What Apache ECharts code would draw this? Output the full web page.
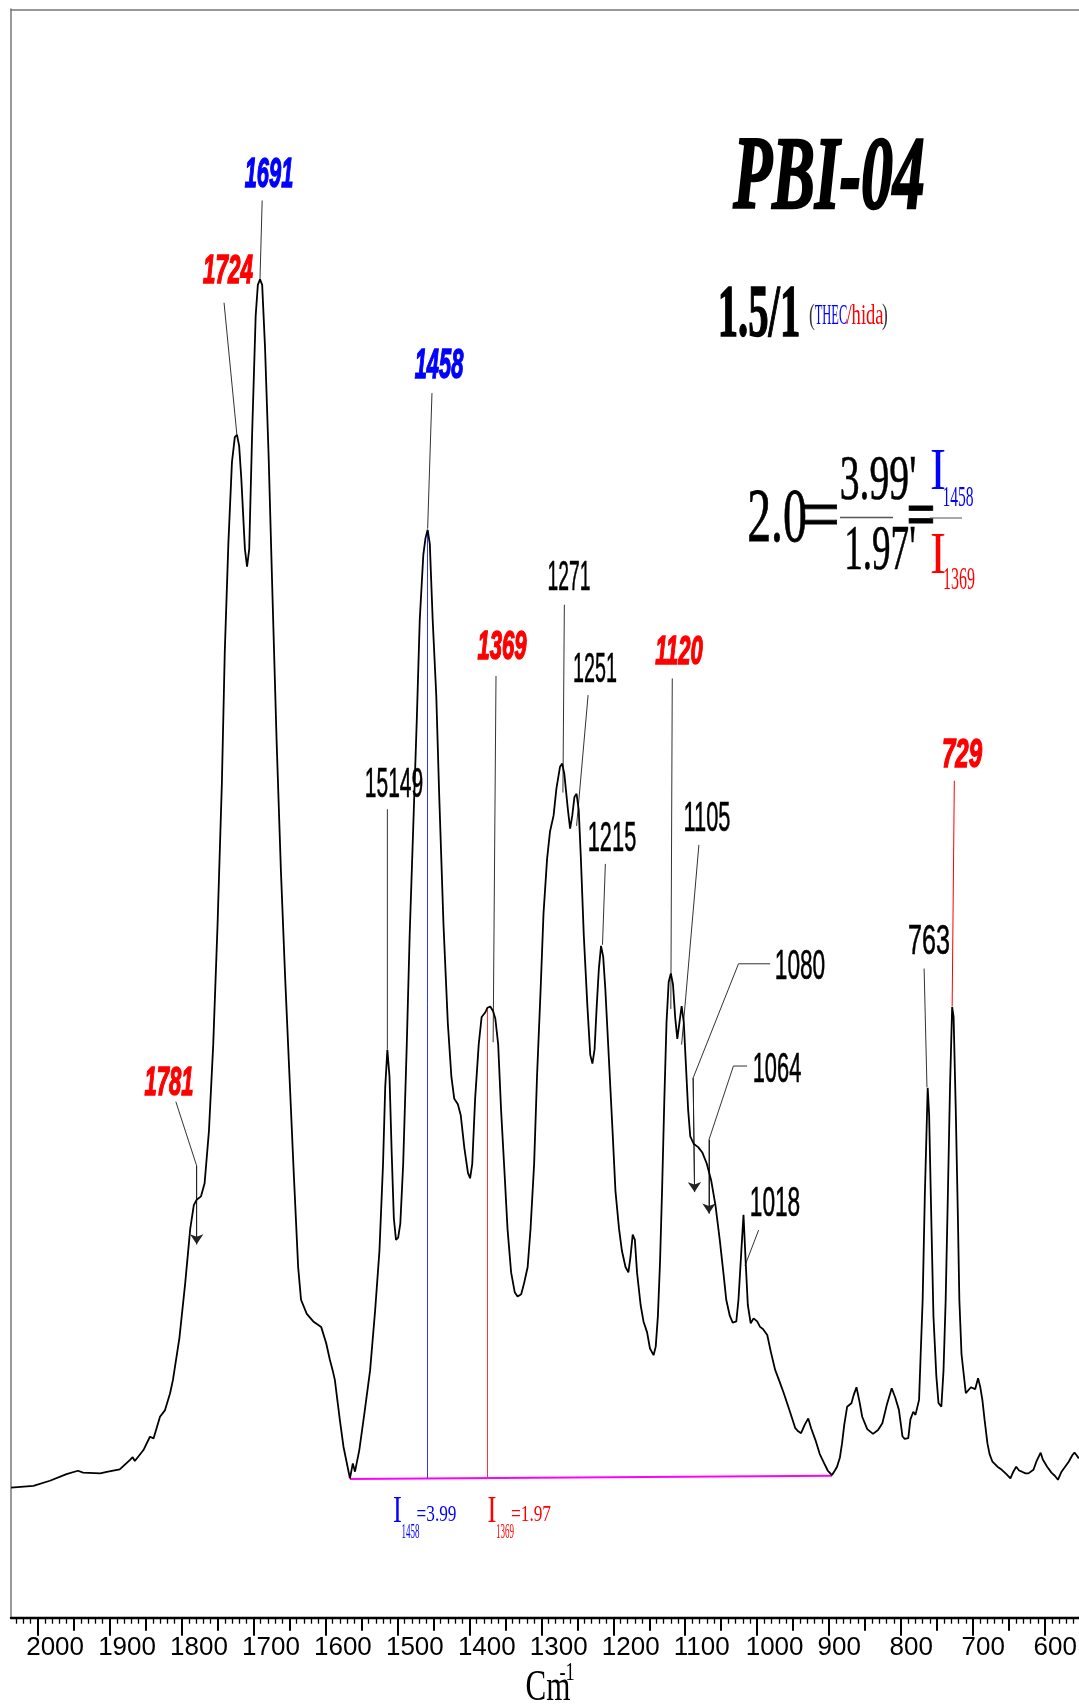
<!DOCTYPE html>
<html>
<head>
<meta charset="utf-8">
<script src="https://cdn.jsdelivr.net/npm/echarts@6/dist/echarts.min.js"></script>
<style>
  html, body { margin: 0; padding: 0; background: #fff; }
  #chart { width: 1079px; height: 1705px; }
</style>
</head>
<body>
<div id="chart"></div>
<script>
// FTIR spectrum of PBI-04, wavenumber (cm-1) vs. absorbance (a.u.)
const wavenumbers = [
  2037, 2006, 1983, 1960, 1944, 1937, 1913, 1904, 1886, 1872, 1868, 1865, 1853, 1844, 1839, 1830, 1823, 1816, 1812,
  1803, 1795, 1788, 1783, 1779, 1773, 1768, 1762, 1756, 1750, 1744, 1740, 1735, 1730, 1726, 1723, 1720, 1717, 1712,
  1709, 1706, 1702, 1697, 1694, 1691, 1688, 1684, 1679, 1674, 1668, 1662, 1656, 1650, 1644, 1638, 1634, 1626, 1617,
  1606, 1599, 1594, 1590, 1587, 1580, 1575, 1566, 1562, 1559, 1553, 1546, 1538, 1531, 1525, 1520, 1517, 1514, 1511,
  1508, 1505, 1502, 1499, 1496, 1492, 1487, 1483, 1478, 1473, 1469, 1464, 1461, 1458, 1455, 1451, 1446, 1442, 1436,
  1430, 1425, 1421, 1416, 1412, 1407, 1402, 1399, 1396, 1392, 1387, 1383, 1378, 1375, 1371, 1367, 1364, 1360, 1356,
  1351, 1347, 1342, 1337, 1333, 1328, 1324, 1319, 1315, 1310, 1306, 1301, 1297, 1292, 1288, 1283, 1279, 1274, 1271,
  1268, 1263, 1260, 1257, 1254, 1251, 1248, 1245, 1241, 1236, 1232, 1229, 1226, 1223, 1220, 1217, 1214, 1211, 1206,
  1201, 1197, 1192, 1188, 1183, 1179, 1176, 1173, 1170, 1167, 1162, 1158, 1153, 1149, 1144, 1141, 1138, 1135, 1132,
  1129, 1126, 1123, 1120, 1117, 1114, 1111, 1108, 1105, 1102, 1099, 1096, 1093, 1088, 1082, 1076, 1070, 1064, 1058,
  1052, 1047, 1043, 1038, 1034, 1029, 1026, 1022, 1019, 1016, 1013, 1009, 1005, 1000, 996, 992, 986, 981, 975, 969,
  963, 955, 947, 943, 939, 934, 929, 925, 919, 913, 907, 902, 896, 892, 889, 885, 882, 879, 875, 869, 866, 862, 858,
  854, 847, 839, 832, 826, 820, 813, 808, 803, 798, 795, 790, 787, 783, 780, 775, 773, 770, 767, 763, 761, 758, 755,
  751, 748, 744, 741, 738, 735, 732, 729, 727, 724, 721, 719, 716, 710, 703, 697, 693, 690, 687, 684, 680, 677, 673,
  666, 660, 654, 648, 644, 640, 636, 632, 627, 623, 616, 612, 606, 603, 597, 591, 586, 582, 577, 572, 567, 562, 559,
  556, 553
];
const absorbance = [
  0.547, 0.554, 0.576, 0.604, 0.618, 0.610, 0.607, 0.613, 0.624, 0.663, 0.675, 0.659, 0.705, 0.761, 0.754, 0.845, 0.873, 0.944, 1.000,
  1.177, 1.406, 1.635, 1.735, 1.758, 1.772, 1.827, 2.046, 2.412, 2.915, 3.510, 4.059, 4.516, 4.860, 4.965, 4.974, 4.928, 4.791, 4.494,
  4.420, 4.494, 4.974, 5.477, 5.605, 5.628, 5.605, 5.340, 4.882, 4.333, 3.693, 3.145, 2.687, 2.275, 1.863, 1.475, 1.337, 1.278, 1.246,
  1.223, 1.154, 1.086, 1.040, 1.000, 0.831, 0.719, 0.586, 0.649, 0.614, 0.705, 0.857, 1.040, 1.292, 1.543, 1.909, 2.229, 2.388, 2.274,
  1.955, 1.680, 1.589, 1.598, 1.657, 1.909, 2.412, 2.870, 3.327, 3.785, 4.196, 4.471, 4.540, 4.575, 4.516, 4.196, 3.876, 3.464, 2.915,
  2.502, 2.274, 2.182, 2.159, 2.113, 1.976, 1.871, 1.848, 1.909, 2.183, 2.412, 2.526, 2.545, 2.565, 2.570, 2.550, 2.520, 2.412, 2.138,
  1.863, 1.635, 1.452, 1.369, 1.351, 1.360, 1.406, 1.475, 1.635, 1.909, 2.275, 2.641, 2.960, 3.191, 3.305, 3.373, 3.488, 3.579, 3.592,
  3.547, 3.396, 3.318, 3.373, 3.451, 3.465, 3.396, 3.191, 2.870, 2.573, 2.367, 2.330, 2.390, 2.573, 2.731, 2.825, 2.779, 2.641, 2.344,
  2.046, 1.795, 1.635, 1.543, 1.475, 1.452, 1.520, 1.611, 1.589, 1.452, 1.315, 1.246, 1.200, 1.132, 1.104, 1.140, 1.268, 1.497, 1.818,
  2.184, 2.504, 2.673, 2.709, 2.663, 2.526, 2.434, 2.504, 2.572, 2.504, 2.321, 2.138, 2.024, 1.992, 1.979, 1.955, 1.909, 1.840, 1.735,
  1.589, 1.452, 1.337, 1.269, 1.241, 1.246, 1.337, 1.543, 1.694, 1.497, 1.315, 1.238, 1.259, 1.246, 1.223, 1.214, 1.189, 1.118, 1.042, 0.994,
  0.944, 0.871, 0.797, 0.784, 0.776, 0.811, 0.838, 0.797, 0.747, 0.688, 0.650, 0.619, 0.600, 0.619, 0.635, 0.674, 0.734, 0.811, 0.887, 0.902, 0.935, 0.969, 0.912,
  0.845, 0.793, 0.773, 0.789, 0.818, 0.893, 0.965, 0.925, 0.874, 0.762, 0.752, 0.755, 0.834, 0.866, 0.853, 0.916, 1.086, 1.337, 1.772, 2.228, 2.115, 1.680, 1.268,
  1.017, 0.903, 0.887, 1.040, 1.337, 1.772, 2.229, 2.568, 2.527, 2.138, 1.680, 1.337, 1.108, 0.944, 0.969, 0.961, 1.007, 0.971, 0.916, 0.834, 0.734, 0.688, 0.656,
  0.635, 0.622, 0.605, 0.586, 0.614, 0.635, 0.619, 0.614, 0.607, 0.607, 0.622, 0.656, 0.694, 0.665, 0.635, 0.610, 0.596, 0.580, 0.614, 0.635, 0.656, 0.683, 0.694,
  0.683, 0.670
];

// Tick labels of the wavenumber axis
const tickLabels = [2000, 1900, 1800, 1700, 1600, 1500, 1400, 1300, 1200, 1100, 1000, 900, 800, 700, 600];

// Baseline drawn between the two valleys, and the band intensities measured from it
const baselineStart = [1566, 0.583];
const baselineEnd = [896, 0.597];
const bandPositions = [1458, 1375];
const bandLabels = ['1458', '1369'];
const bandIntensities = [3.99, 1.97];

// Peak annotations: label, leader polyline in data coordinates, arrow flag
const peakLabels = ['1691', '1724', '1458', '1369', '1271', '1251', '15149', '1215', '1120', '1105', '1080', '1064', '1018', '763', '729', '1781'];
const peakLeaders = [
  [[1688, 5.96], [1691, 5.63]],
  [[1741, 5.53], [1723, 4.97]],
  [[1452, 5.15], [1458, 4.58]],
  [[1363, 3.96], [1367, 2.42]],
  [[1268, 4.26], [1270, 3.47]],
  [[1235, 3.88], [1251, 3.33]],
  [[1514, 3.40], [1514, 2.39]],
  [[1211, 3.17], [1215, 2.83]],
  [[1118, 3.95], [1120, 2.56]],
  [[1081, 3.25], [1105, 2.41]],
  [[982, 2.75], [1026, 2.75], [1089, 2.27], [1087, 1.79]],
  [[1014, 2.32], [1033, 2.32], [1067, 2.01], [1067, 1.70]],
  [[998, 1.63], [1017, 1.48]],
  [[768, 2.73], [764, 2.23]],
  [[726, 3.52], [729, 2.57]],
  [[1808, 2.17], [1779, 1.90], [1779, 1.57]]
];
const peakArrow = [false, false, false, false, false, false, false, false, false, false, true, true, false, false, false, true];
const peakColor = ['#0000ff', '#ff0000', '#0000ff', '#ff0000', '#000', '#000', '#000', '#000', '#ff0000', '#000', '#000', '#000', '#000', '#000', '#ff0000', '#ff0000'];

const chart = echarts.init(document.getElementById('chart'), null, { renderer: 'canvas' });

const spectrum = wavenumbers.map((w, i) => [w, absorbance[i]]);

// tick position lists for three tick lengths
const majorTicks = tickLabels.slice();
const midTicks = [];
const minorTicks = [];
for (let w = 560; w <= 2030; w += 10) {
  if (w % 100 === 0) continue;
  if (w % 50 === 0) midTicks.push(w); else minorTicks.push(w);
}

const X_MIN = 552.7, X_MAX = 2037.1;
function baselineAt(w) {
  const t = (baselineStart[0] - w) / (baselineStart[0] - baselineEnd[0]);
  return baselineStart[1] + t * (baselineEnd[1] - baselineStart[1]);
}

function bottomAxis(ticks, len, width, withLine) {
  return {
    type: 'value', position: 'bottom', min: X_MIN, max: X_MAX, inverse: true,
    axisLine: { show: withLine, onZero: false, lineStyle: { color: '#000', width: 2.4 } },
    axisTick: { show: true, customValues: ticks, length: len, lineStyle: { color: '#000', width: width } },
    axisLabel: { show: false },
    splitLine: { show: false }
  };
}

const SANS = 'Liberation Sans, Arial, sans-serif';
const SERIF = 'Liberation Serif, Times New Roman, serif';
function txt(x, y, s, o) {
  return {
    type: 'text', x: x, y: y, scaleX: o.sx || 1, z: 100,
    style: {
      text: s, fill: o.color || '#000', fontSize: o.size, fontFamily: o.family || SANS,
      fontWeight: o.bold ? 'bold' : 'normal', fontStyle: o.italic ? 'italic' : 'normal',
      align: o.align || 'center', verticalAlign: 'middle',
      stroke: o.heavy ? (o.color || '#000') : null, lineWidth: o.heavy || 0
    }
  };
}
function hline(x1, x2, y, color, w) {
  return { type: 'line', z: 100, shape: { x1: x1, y1: y, x2: x2, y2: y }, style: { stroke: color, lineWidth: w } };
}

// label placement (pixel centres) for the peak annotations
const peakLabelPos = [
  [269, 175], [228, 272], [439, 366], [502, 648], [569, 578], [595, 670], [394, 785], [612, 839],
  [679, 653], [707, 819], [800, 967], [777, 1070], [775, 1204], [929, 942], [962, 756], [169, 1084]
];
const peakLabelSize = [42, 40, 42, 40, 42, 42, 42, 42, 40, 42, 42, 42, 42, 42, 40, 40];
const peakLabelScale = [0.52, 0.56, 0.52, 0.55, 0.46, 0.47, 0.50, 0.52, 0.55, 0.52, 0.54, 0.52, 0.54, 0.60, 0.60, 0.55];

const graphics = [];
peakLabels.forEach((s, i) => {
  const colored = peakColor[i] !== '#000';
  graphics.push(txt(peakLabelPos[i][0], peakLabelPos[i][1], s, {
    size: peakLabelSize[i], sx: peakLabelScale[i], color: peakColor[i], bold: colored, italic: colored,
    heavy: colored ? 1.5 : 0.6
  }));
});

// sample name and composition
graphics.push(txt(829, 181, 'PBI-04', { size: 103, sx: 0.62, bold: true, italic: true, family: SERIF, heavy: 2.5 }));
graphics.push(txt(759, 317, '1.5/1', { size: 74, sx: 0.55, bold: true, family: SERIF, heavy: 1.5 }));
graphics.push(txt(812, 316, '(', { size: 29, sx: 0.6, family: SERIF, color: '#333' }));
graphics.push(txt(831, 316, 'THEC', { size: 29, sx: 0.43, family: SERIF, color: '#0000ff' }));
graphics.push(txt(865, 316, '/hida', { size: 29, sx: 0.64, family: SERIF, color: '#ff0000' }));
graphics.push(txt(885, 316, ')', { size: 29, sx: 0.6, family: SERIF, color: '#333' }));

// intensity ratio formula
const ratio = (bandIntensities[0] / bandIntensities[1]).toFixed(1);
graphics.push(txt(777, 521, ratio, { size: 77, sx: 0.62, family: SERIF, heavy: 0.8 }));
graphics.push(txt(820, 520, '=', { size: 77, sx: 0.93, family: SERIF, heavy: 0.8 }));
graphics.push(txt(878, 482, bandIntensities[0].toFixed(2) + "'", { size: 64, sx: 0.62, family: SERIF, heavy: 0.6 }));
graphics.push(hline(840, 893, 517.5, '#555', 1.5));
graphics.push(txt(880, 552, bandIntensities[1].toFixed(2) + "'", { size: 64, sx: 0.58, family: SERIF, heavy: 0.6 }));
graphics.push(txt(921, 519, '=', { size: 64, sx: 0.8, bold: true, family: SERIF, heavy: 0.8 }));
graphics.push(txt(938, 473, 'I', { size: 60, sx: 0.8, family: SERIF, color: '#0000ff' }));
graphics.push(txt(958, 498, bandLabels[0], { size: 30, sx: 0.52, family: SERIF, color: '#0000ff' }));
graphics.push(hline(930, 962, 518, '#555', 1));
graphics.push(txt(938, 557, 'I', { size: 60, sx: 0.8, family: SERIF, color: '#ff0000' }));
graphics.push(txt(959, 581, bandLabels[1], { size: 32, sx: 0.5, family: SERIF, color: '#ff0000' }));

// band intensity read-outs under the baseline
[[397.5, '#0000ff'], [492, '#ff0000']].forEach((p, i) => {
  graphics.push(txt(p[0], 1512, 'I', { size: 38, sx: 0.7, family: SERIF, color: p[1] }));
  graphics.push(txt(p[0] + 13, 1533, bandLabels[i], { size: 20, sx: 0.45, family: SERIF, color: p[1] }));
  graphics.push(txt(p[0] + 39, 1515, '=' + bandIntensities[i].toFixed(2), { size: 24, sx: 0.72, family: SERIF, color: p[1] }));
});

// axis title
graphics.push(txt(548, 1688, 'Cm', { size: 45, sx: 0.69, family: SERIF }));
graphics.push(txt(567, 1673, '-1', { size: 26, sx: 0.7, family: SERIF }));

// leader lines (polylines) and the arrow tips on the last segment
const leaderData = peakLeaders.map((c, i) => ({
  coords: c,
  lineStyle: { color: i === 14 ? '#ff0000' : '#333', opacity: 1, width: 1 }
}));
const arrowData = [];
peakLeaders.forEach((c, i) => {
  if (peakArrow[i]) arrowData.push({ coords: [c[c.length - 2], c[c.length - 1]] });
});

// baseline and band height markers
const bandLines = bandPositions.map((w, i) => {
  const b = baselineAt(w);
  return {
    coords: [[w, b], [w, b + bandIntensities[i]]],
    lineStyle: { color: i === 0 ? '#3333ff' : '#ff3333', width: 1, opacity: 1 }
  };
});

chart.setOption({
  animation: false,
  backgroundColor: '#fff',
  grid: { left: 11, right: 0, top: 9.3, bottom: 87.3, containLabel: false },
  xAxis: [
    bottomAxis(majorTicks, 18, 2, true),
    bottomAxis(midTicks, 13, 2, false),
    bottomAxis(minorTicks, 6, 1.3, false),
    {
      type: 'value', position: 'top', min: X_MIN, max: X_MAX, inverse: true,
      axisLine: { show: true, onZero: false, lineStyle: { color: '#777', width: 1.5 } },
      axisTick: { show: false }, axisLabel: { show: false }, splitLine: { show: false }
    }
  ],
  yAxis: {
    type: 'value', min: 0, max: 6.764,
    axisLine: { show: true, onZero: false, lineStyle: { color: '#999', width: 2 } },
    axisTick: { show: false }, axisLabel: { show: false }, splitLine: { show: false }
  },
  series: [
    {
      type: 'line', data: spectrum, showSymbol: false, smooth: false,
      lineStyle: { color: '#000', width: 1.8 }, z: 5
    },
    {
      type: 'lines', coordinateSystem: 'cartesian2d', polyline: false, z: 3,
      data: [{ coords: [baselineStart, baselineEnd] }],
      lineStyle: { color: '#ff00ff', width: 2, opacity: 1 }
    },
    {
      type: 'lines', coordinateSystem: 'cartesian2d', polyline: false, z: 3,
      data: bandLines
    },
    {
      type: 'lines', coordinateSystem: 'cartesian2d', polyline: true, z: 4,
      data: leaderData,
      lineStyle: { color: '#333', width: 1, opacity: 1 }
    },
    {
      type: 'lines', coordinateSystem: 'cartesian2d', polyline: false, z: 4,
      data: arrowData,
      symbol: ['none', 'arrow'], symbolSize: 10,
      lineStyle: { color: '#222', width: 1, opacity: 1 }
    }
  ]
});

// wavenumber tick labels: placed through the axis scale, text starting a little left of its tick
const axisY = chart.convertToPixel({ yAxisIndex: 0 }, 0);
tickLabels.forEach(v => {
  const px = chart.convertToPixel({ xAxisIndex: 0 }, v);
  graphics.push(txt(px - 11.5, axisY + 30, String(v), { size: 26, align: 'left' }));
});

chart.setOption({ graphic: graphics });
</script>
</body>
</html>
